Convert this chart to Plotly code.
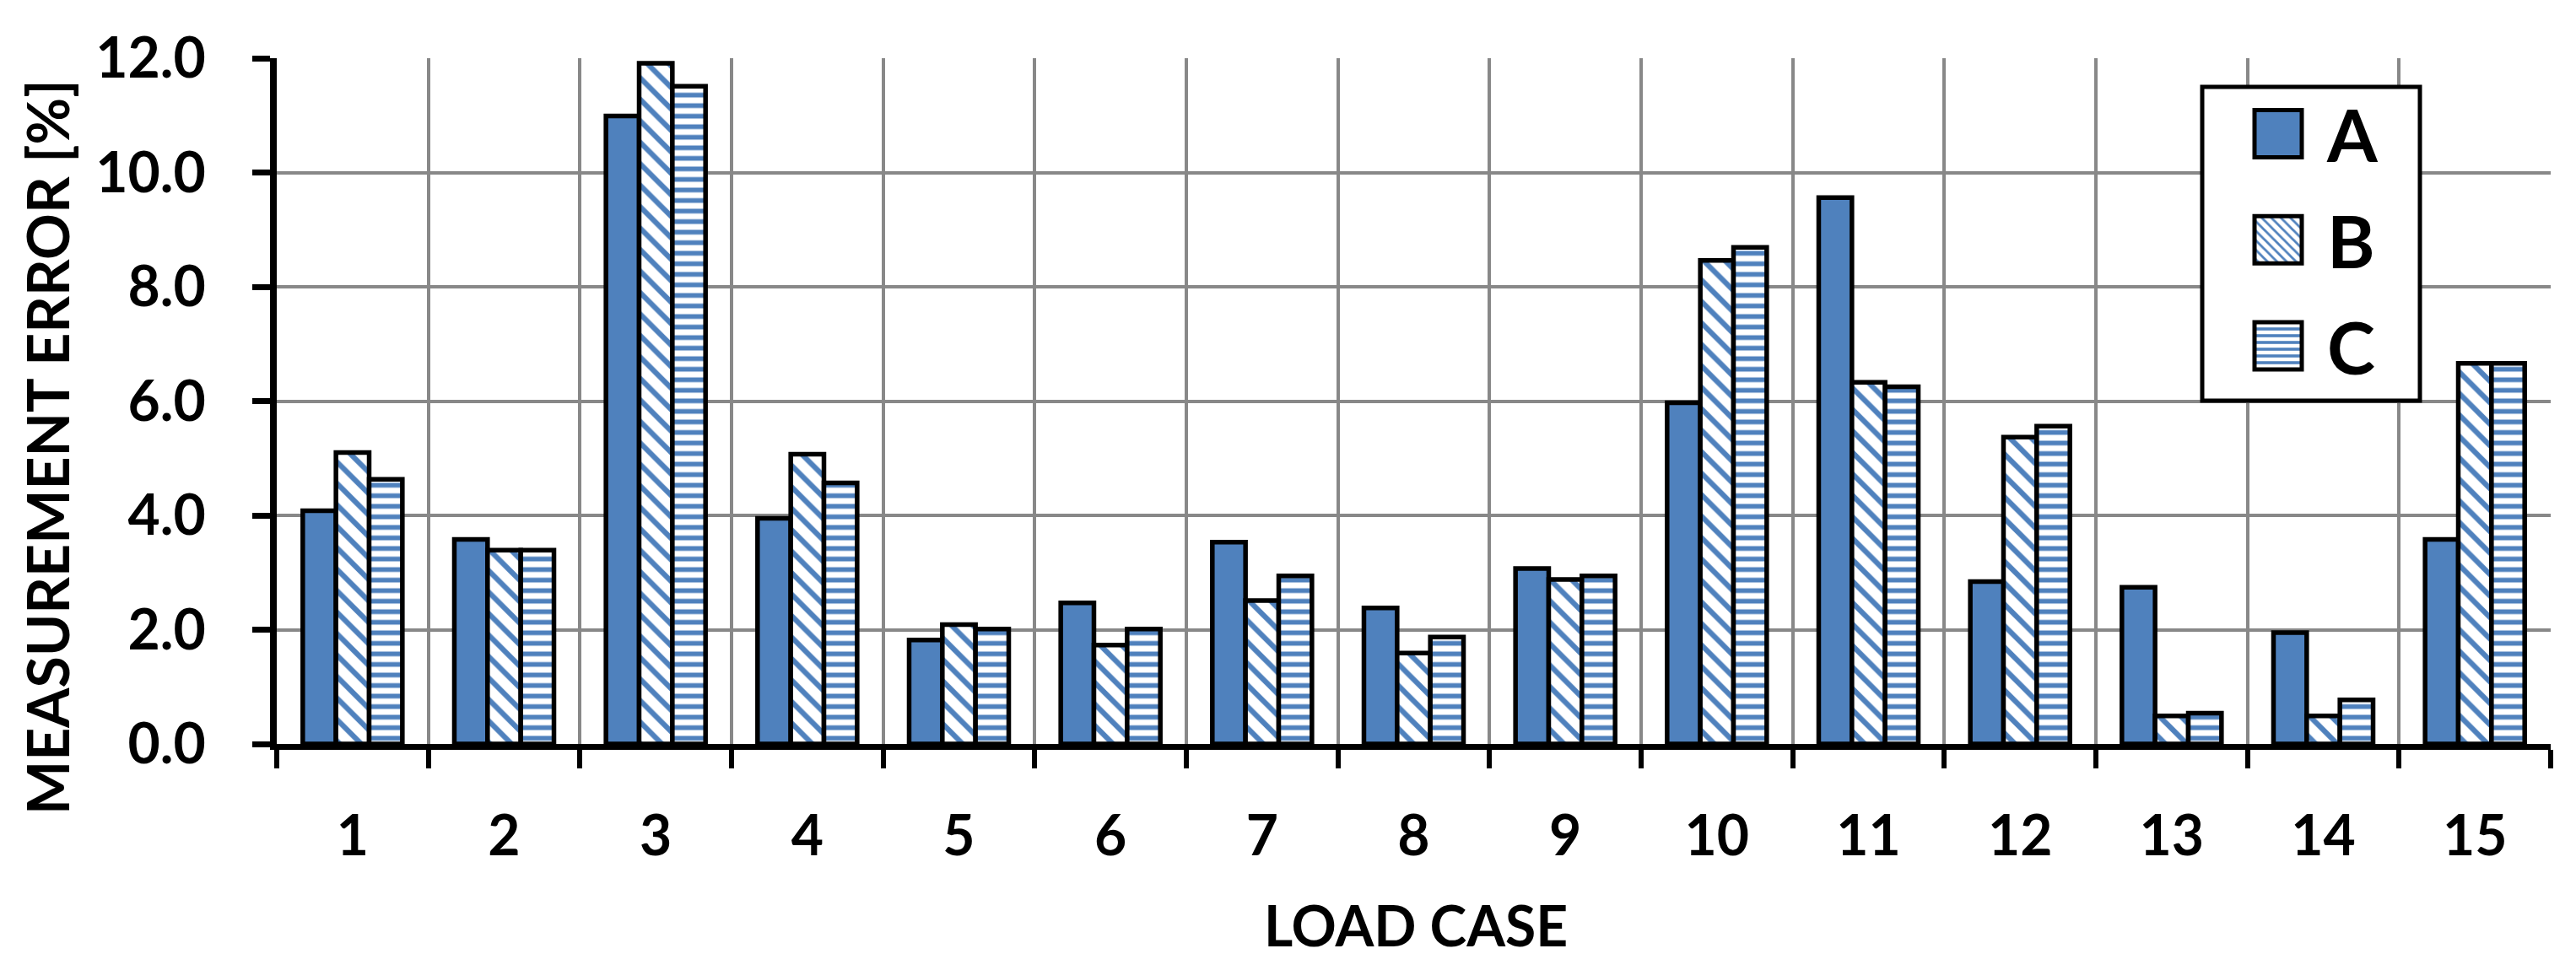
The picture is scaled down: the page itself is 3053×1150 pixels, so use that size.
import plotly.graph_objects as go

# ---- data ----
load_cases = list(range(1, 16))
tick_labels = [str(c) for c in load_cases]
series_names = ["A", "B", "C"]
values_A = [4.08, 3.58, 10.99, 3.95, 1.82, 2.47, 3.53, 2.38, 3.07, 5.97, 9.56, 2.84, 2.74, 1.95, 3.58]
values_B = [5.10, 3.39, 11.91, 5.07, 2.09, 1.73, 2.51, 1.59, 2.88, 8.46, 6.33, 5.37, 0.49, 0.49, 6.66]
values_C = [4.63, 3.39, 11.51, 4.57, 2.01, 2.01, 2.94, 1.87, 2.94, 8.69, 6.25, 5.56, 0.54, 0.77, 6.66]
y_ticks = [0, 2, 4, 6, 8, 10, 12]

BLUE = "#4F81BD"
GRID = "#888888"
FONT = "Lato"

# the page body has an 8px default margin, so the figure is 8px smaller
OFF = 8
W, H = 3053 - OFF, 1150 - OFF
ML, MR, MT, MB = 320, 30, 61, 268
PW, PH = W - ML - MR, H - MT - MB


def px(xpage):
    return (xpage - OFF - ML) / PW


def py(ypage):
    return (H - MB - (ypage - OFF)) / PH


fig = go.Figure()
line = dict(color="black", width=5.5)
fig.add_bar(x=load_cases, y=values_A, name=series_names[0], legendgroup="A",
            marker=dict(color=BLUE, line=line))
fig.add_bar(x=load_cases, y=values_B, name=series_names[1], legendgroup="B",
            marker=dict(color=BLUE, line=line,
                        pattern=dict(shape="\\", fgcolor=BLUE, bgcolor="white",
                                     size=18, solidity=0.35, fillmode="replace")))
fig.add_bar(x=load_cases, y=values_C, name=series_names[2], legendgroup="C",
            marker=dict(color=BLUE, line=line,
                        pattern=dict(shape="-", fgcolor=BLUE, bgcolor="white",
                                     size=12.5, solidity=0.45, fillmode="replace")))

boundaries = [c - 0.5 for c in load_cases] + [load_cases[-1] + 0.5]

fig.update_layout(
    width=W, height=H,
    margin=dict(l=ML, r=MR, t=MT, b=MB, pad=0),
    paper_bgcolor="white", plot_bgcolor="white",
    barmode="group", bargap=0.343, bargroupgap=0,
    font=dict(family=FONT, size=66, color="black", weight=700),
    xaxis=dict(
        range=[0.5, 15.5], tickmode="array", tickvals=load_cases, ticktext=tick_labels,
        ticks="", showgrid=False, zeroline=False,
        showline=True, linecolor="black", linewidth=7,
        tickfont=dict(family=FONT, size=66, color="black", weight=700),
        ticklabelstandoff=46,
        minor=dict(tickmode="array", tickvals=boundaries, ticks="outside",
                   ticklen=22, tickwidth=6, tickcolor="black",
                   showgrid=True, gridcolor=GRID, gridwidth=4),
    ),
    yaxis=dict(
        range=[0, 12], tickmode="array", tickvals=y_ticks, tickformat=".1f",
        ticks="outside", ticklen=21, tickwidth=7, tickcolor="black",
        showgrid=True, gridcolor=GRID, gridwidth=4, zeroline=False,
        showline=True, linecolor="black", linewidth=8,
        tickfont=dict(family=FONT, size=66, color="black", weight=700),
        ticklabelstandoff=42,
    ),
    showlegend=True,
    legend=dict(
        x=px(2610), y=py(96),
        xanchor="left", yanchor="top",
        bgcolor="rgba(0,0,0,0)", borderwidth=0,
        font=dict(family=FONT, size=86, color="black", weight=700),
        itemwidth=138, tracegroupgap=11,
        traceorder="grouped",
    ),
    shapes=[dict(type="rect", xref="paper", yref="paper",
                 x0=px(2610), x1=px(2868), y0=py(475), y1=py(103),
                 fillcolor="white", line=dict(color="black", width=5), layer="above")],
    annotations=[
        dict(text="MEASUREMENT ERROR [%]", xref="paper", yref="paper",
             x=px(55), y=py(530),
             xanchor="center", yanchor="middle", textangle=-90, showarrow=False,
             font=dict(family=FONT, size=68, color="black", weight=700)),
        dict(text="LOAD CASE", xref="paper", yref="paper",
             x=px(1678), y=py(1096),
             xanchor="center", yanchor="middle", showarrow=False,
             font=dict(family=FONT, size=66, color="black", weight=700)),
    ],
)

post = """
var gd = document.getElementById('{plot_id}');
function fixLegend(){
  var paths = document.querySelectorAll('g.legend g.legendpoints path');
  for (var i = 0; i < paths.length; i++) {
    var p = paths[i];
    p.setAttribute('d', 'M44,28H-12V-28H44Z');
    p.style.strokeWidth = '5px';
    p.style.stroke = 'black';
  }
}
fixLegend();
if (gd && gd.on) { gd.on('plotly_afterplot', fixLegend); }
var _n = 0;
var _t = setInterval(function(){ fixLegend(); _n++; if (_n > 60) clearInterval(_t); }, 50);
"""

fig.write_html("out.html", post_script=post)
